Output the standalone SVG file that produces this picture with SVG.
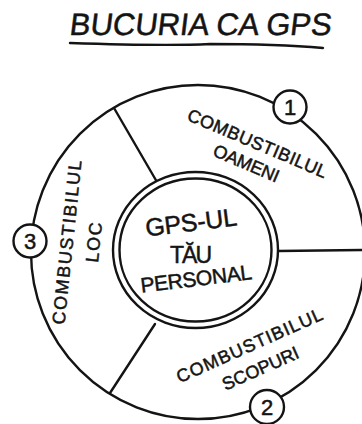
<svg xmlns="http://www.w3.org/2000/svg" width="362" height="424" viewBox="0 0 362 424">
<style>
.ln{fill:none;stroke:#141414;stroke-width:2.4;stroke-linecap:round}
.bd{fill:#fff;stroke:#141414;stroke-width:2.4}
.t{font-family:"Liberation Sans","DejaVu Sans",sans-serif;fill:#141414;text-anchor:middle;stroke:#141414;stroke-width:0.5}
.lab{font-size:18px}
.num{font-size:22px}
</style>
<rect width="362" height="424" fill="#fff"/>
<g id="title">
<text class="t" x="204" y="35" font-size="31" transform="skewX(-7)" textLength="262" lengthAdjust="spacing">BUCURIA CA GPS</text>
<path class="ln" d="M70 43 C130 45 170 46 210 44 C260 44 300 46 323 48" stroke-width="2.8"/>
</g>
<g id="connectors">
<circle class="ln" cx="198" cy="252" r="167"/>
<line class="ln" x1="114" y1="108" x2="157" y2="182"/>
<line class="ln" x1="278" y1="251" x2="364" y2="250"/>
<line class="ln" x1="155" y1="324" x2="110" y2="393"/>
</g>
<g id="center">
<ellipse class="bd" cx="195.5" cy="250" rx="82.5" ry="78"/>
<ellipse class="ln" cx="195.5" cy="250" rx="76" ry="71.5"/>
<text class="t" x="191" y="231" font-size="25" transform="rotate(-7 191 222)" textLength="92" lengthAdjust="spacing">GPS-UL</text>
<text class="t" x="191" y="263" font-size="23" textLength="42" lengthAdjust="spacing">TĂU</text>
<text class="t" x="196" y="286" font-size="21" transform="rotate(-7 196 278)" textLength="112" lengthAdjust="spacing">PERSONAL</text>
</g>
<g id="oameni">
<text class="t lab" transform="translate(255 149) rotate(23)" textLength="150" lengthAdjust="spacing">COMBUSTIBILUL</text>
<text class="t lab" transform="translate(244 169) rotate(23)" textLength="70" lengthAdjust="spacing">OAMENI</text>
</g>
<g id="scopuri">
<text class="t lab" transform="translate(252 351) rotate(-24)" textLength="158" lengthAdjust="spacing">COMBUSTIBILUL</text>
<text class="t lab" transform="translate(263 374) rotate(-24)" textLength="82" lengthAdjust="spacing">SCOPURI</text>
</g>
<g id="loc">
<text class="t lab" transform="translate(73 243) rotate(-84)" textLength="165" lengthAdjust="spacing">COMBUSTIBILUL</text>
<text class="t lab" transform="translate(100 243) rotate(-84)" textLength="40" lengthAdjust="spacing">LOC</text>
</g>
<g id="n1">
<circle class="bd" cx="290" cy="107" r="16.5"/>
<text class="t num" x="290" y="115">1</text>
</g>
<g id="n2">
<circle class="bd" cx="267" cy="407" r="17"/>
<text class="t num" x="267" y="415">2</text>
</g>
<g id="n3">
<circle class="bd" cx="30" cy="241" r="16.5"/>
<text class="t num" x="30" y="249">3</text>
</g>
</svg>
